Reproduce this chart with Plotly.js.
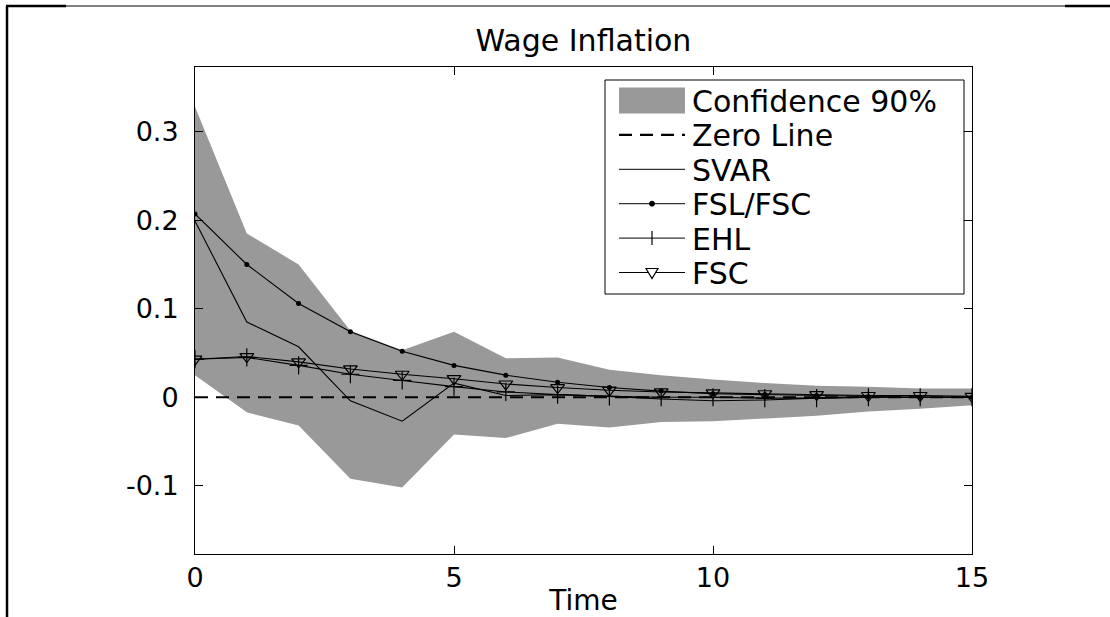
<!DOCTYPE html>
<html>
<head>
<meta charset="utf-8">
<script src="https://cdn.plot.ly/plotly-3.0.1.min.js"></script>
<style>html,body{margin:0;padding:0;background:#fff;}#chart{width:1110px;height:617px;}</style>
</head>
<body>
<div id="chart"></div>
<script>
// ---- data ----
const time = [0, 1, 2, 3, 4, 5, 6, 7, 8, 9, 10, 11, 12, 13, 14, 15];
const bandUpper = [0.328, 0.185, 0.150, 0.075, 0.053, 0.074, 0.044, 0.045, 0.031, 0.025, 0.020, 0.016, 0.013, 0.012, 0.010, 0.010];
const bandLower = [0.025, -0.017, -0.032, -0.092, -0.102, -0.042, -0.046, -0.030, -0.034, -0.028, -0.027, -0.024, -0.021, -0.016, -0.013, -0.009];
const zeroLine = [0, 0, 0, 0, 0, 0, 0, 0, 0, 0, 0, 0, 0, 0, 0, 0];
const svar = [0.199, 0.085, 0.057, -0.004, -0.027, 0.016, 0.002, 0.003, 0.001, -0.002, -0.004, -0.003, -0.001, 0.000, 0.000, 0.000];
const fslFsc = [0.207, 0.150, 0.106, 0.074, 0.052, 0.036, 0.025, 0.017, 0.011, 0.007, 0.004, 0.003, 0.002, 0.001, 0.000, 0.000];
const ehl = [0.043, 0.045, 0.036, 0.026, 0.019, 0.012, 0.006, 0.003, 0.001, 0.000, 0.000, -0.001, -0.001, 0.000, 0.000, 0.000];
const fsc = [0.043, 0.046, 0.040, 0.032, 0.026, 0.021, 0.015, 0.011, 0.008, 0.006, 0.005, 0.004, 0.003, 0.002, 0.002, 0.001];
const legendLabels = ["Confidence 90%", "Zero Line", "SVAR", "FSL/FSC", "EHL", "FSC"];
const xTickVals = [0, 5, 10, 15];
const xTickText = ["0", "5", "10", "15"];
const yTickVals = [-0.1, 0, 0.1, 0.2, 0.3];
const yTickText = ["-0.1", "0", "0.1", "0.2", "0.3"];

// ---- layout geometry (pixels) ----
const W = 1110, H = 617;
const L = 195, R = 972, T = 67, B = 554;
const px2x = p => (p - L) / (R - L);
const py2y = p => (B - p) / (B - T);
const FONT = "DejaVu Sans";
const BAND = "#999999";

const traces = [
  {x: time, y: bandLower, mode: "lines", line: {width: 0, color: BAND}, showlegend: false, hoverinfo: "skip"},
  {x: time, y: bandUpper, mode: "lines", line: {width: 0, color: BAND}, fill: "tonexty", fillcolor: BAND, name: legendLabels[0], showlegend: false},
  {x: time, y: zeroLine, mode: "lines", line: {color: "#000", width: 2.2, dash: "13px,8px"}, name: legendLabels[1], showlegend: false},
  {x: time, y: svar, mode: "lines", line: {color: "#000", width: 1.1}, name: legendLabels[2], showlegend: false},
  {x: time, y: fslFsc, mode: "lines+markers", line: {color: "#000", width: 1.1}, marker: {symbol: "circle", size: 5, color: "#000"}, name: legendLabels[3], showlegend: false},
  {x: time, y: ehl, mode: "lines+markers", line: {color: "#000", width: 1.1}, marker: {symbol: "cross-thin-open", size: 13, color: "#000", line: {color: "#000", width: 1.2}}, name: legendLabels[4], showlegend: false},
  {x: time, y: fsc, mode: "lines+markers", line: {color: "#000", width: 1.1}, marker: {symbol: "triangle-down-open", size: 12, color: "#000", line: {color: "#000", width: 1.2}}, name: legendLabels[5], showlegend: false}
];

// ---- hand-drawn legend, like the MATLAB one ----
const shapes = [];
const annotations = [];
const lgL = 605, lgR = 964, lgT = 80, lgB = 294;
shapes.push({type: "rect", xref: "paper", yref: "paper", x0: px2x(lgL), x1: px2x(lgR), y0: py2y(lgB), y1: py2y(lgT), line: {color: "#000", width: 1}, fillcolor: "#fff", layer: "above"});
const rowY = i => 100.5 + 34.4 * i;
const symL = 619, symR = 685, symC = 652, textX = 690;
shapes.push({type: "rect", xref: "paper", yref: "paper", x0: px2x(symL), x1: px2x(symR), y0: py2y(rowY(0) + 13), y1: py2y(rowY(0) - 13), line: {width: 0}, fillcolor: BAND, layer: "above"});
shapes.push({type: "line", xref: "paper", yref: "paper", x0: px2x(symL), x1: px2x(symR), y0: py2y(rowY(1)), y1: py2y(rowY(1)), line: {color: "#000", width: 2.2, dash: "13px,8px"}, layer: "above"});
for (let i = 2; i < 6; i++) {
  shapes.push({type: "line", xref: "paper", yref: "paper", x0: px2x(symL), x1: px2x(symR), y0: py2y(rowY(i)), y1: py2y(rowY(i)), line: {color: "#000", width: 1}, layer: "above"});
}
shapes.push({type: "circle", xref: "paper", yref: "paper", x0: px2x(symC - 2.5), x1: px2x(symC + 2.5), y0: py2y(rowY(3) + 2.5), y1: py2y(rowY(3) - 2.5), line: {color: "#000", width: 1}, fillcolor: "#000", layer: "above"});
shapes.push({type: "line", xref: "paper", yref: "paper", x0: px2x(symC), x1: px2x(symC), y0: py2y(rowY(4) + 7), y1: py2y(rowY(4) - 7), line: {color: "#000", width: 1.2}, layer: "above"});
const ty = rowY(5);
shapes.push({type: "path", xref: "paper", yref: "paper",
  path: `M${px2x(symC - 6)},${py2y(ty - 4)} L${px2x(symC + 6)},${py2y(ty - 4)} L${px2x(symC)},${py2y(ty + 6)} Z`,
  line: {color: "#000", width: 1.2}, fillcolor: "rgba(255,255,255,1)", layer: "above"});
legendLabels.forEach((t, i) => {
  annotations.push({xref: "paper", yref: "paper", x: px2x(textX), y: py2y(rowY(i) + 1), text: t, showarrow: false, xanchor: "left", yanchor: "middle", font: {family: FONT, size: 30, color: "#000"}});
});

// ---- figure frame lines (as in the reference picture) ----
shapes.push({type: "line", xref: "paper", yref: "paper", x0: px2x(7), x1: px2x(7), y0: py2y(6), y1: py2y(620), line: {color: "#000", width: 2.5}});
shapes.push({type: "line", xref: "paper", yref: "paper", x0: px2x(7), x1: px2x(1110), y0: py2y(6), y1: py2y(6), line: {color: "#000", width: 1}});
shapes.push({type: "line", xref: "paper", yref: "paper", x0: px2x(6), x1: px2x(66), y0: py2y(6), y1: py2y(6), line: {color: "#000", width: 2.5}});
shapes.push({type: "line", xref: "paper", yref: "paper", x0: px2x(1065), x1: px2x(1110), y0: py2y(6), y1: py2y(6), line: {color: "#000", width: 2.5}});

const axisCommon = {
  showgrid: false, zeroline: false, showline: true, linecolor: "#000", linewidth: 1,
  mirror: "ticks", ticks: "inside", ticklen: 8, tickcolor: "#000", tickwidth: 1,
  tickfont: {family: FONT, size: 27, color: "#000"}, tickmode: "array"
};

const layout = {
  width: W, height: H,
  margin: {l: L, r: W - R, t: T, b: H - B, pad: 0},
  paper_bgcolor: "#fff", plot_bgcolor: "#fff",
  showlegend: false,
  title: {text: "Wage Inflation", x: 0.5, xref: "paper", xanchor: "center", y: 1 - 40 / H, yanchor: "middle", font: {family: FONT, size: 30, color: "#000"}},
  xaxis: Object.assign({}, axisCommon, {range: [0, 15], tickvals: xTickVals, ticktext: xTickText, ticklabelstandoff: 0,
    title: {text: "Time", standoff: 4, font: {family: FONT, size: 28, color: "#000"}}}),
  yaxis: Object.assign({}, axisCommon, {range: [-0.177, 0.373], tickvals: yTickVals, ticktext: yTickText, ticklabelstandoff: 10}),
  shapes: shapes,
  annotations: annotations
};

Plotly.newPlot("chart", traces, layout, {staticPlot: true, displayModeBar: false});
</script>
</body>
</html>
